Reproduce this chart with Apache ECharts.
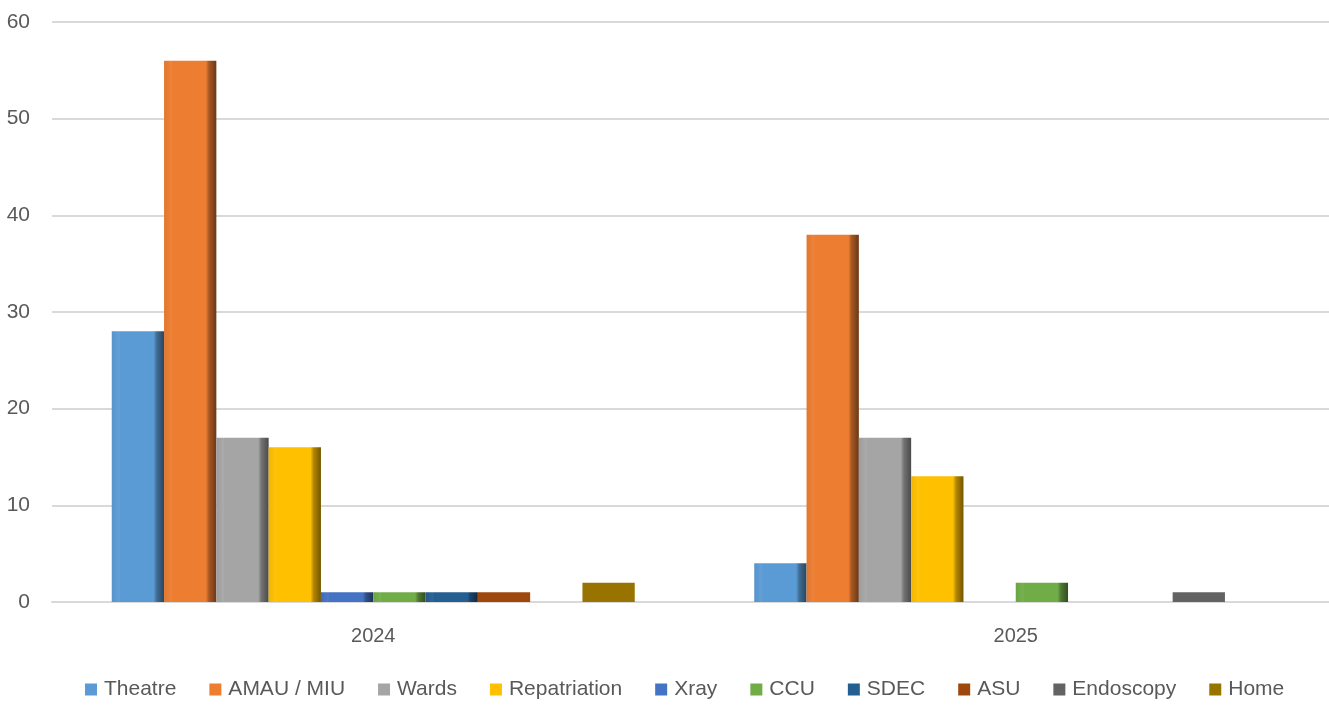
<!DOCTYPE html>
<html>
<head>
<meta charset="utf-8">
<script src="https://cdn.jsdelivr.net/npm/echarts@6/dist/echarts.min.js"></script>
<style>html,body{margin:0;padding:0;background:#fff}#c{width:1329px;height:705px}</style>
</head>
<body>
<div id="c"></div>
<script>
const categories = ['2024', '2025'];
const seriesNames = ['Theatre', 'AMAU / MIU', 'Wards', 'Repatriation', 'Xray', 'CCU', 'SDEC', 'ASU', 'Endoscopy', 'Home'];
const theatre = [28, 4];
const amau = [56, 38];
const wards = [17, 17];
const repatriation = [16, 13];
const xray = [1, 0];
const ccu = [1, 2];
const sdec = [1, 0];
const asu = [1, 0];
const endoscopy = [0, 1];
const home = [2, 0];
const yTicks = [0, 10, 20, 30, 40, 50, 60];

const values = [theatre, amau, wards, repatriation, xray, ccu, sdec, asu, endoscopy, home];
const colors = ['#5B9BD5', '#ED7D31', '#A5A5A5', '#FFC000', '#4472C4', '#70AD47', '#255E91', '#9E480E', '#636363', '#997300'];
const beveled = [true, true, true, true, true, true, true, false, false, false];

function shade(hex, f) {
  const n = parseInt(hex.slice(1), 16);
  let r = (n >> 16) & 255, g = (n >> 8) & 255, b = n & 255;
  if (f < 0) { r = Math.round(r * (1 + f)); g = Math.round(g * (1 + f)); b = Math.round(b * (1 + f)); }
  else { r = Math.round(r + (255 - r) * f); g = Math.round(g + (255 - g) * f); b = Math.round(b + (255 - b) * f); }
  return 'rgb(' + r + ',' + g + ',' + b + ')';
}
function fill(c, bev) {
  if (!bev) return c;
  return {
    type: 'linear', x: 0, y: 0, x2: 1, y2: 0,
    colorStops: [
      { offset: 0, color: shade(c, -0.05) },
      { offset: 0.14, color: shade(c, 0.05) },
      { offset: 0.16, color: c },
      { offset: 0.80, color: c },
      { offset: 0.86, color: shade(c, -0.3) },
      { offset: 1, color: shade(c, -0.55) }
    ]
  };
}

const series = seriesNames.map((name, i) => ({
  name: name,
  type: 'bar',
  data: values[i],
  barGap: '0%',
  barCategoryGap: '18.6%',
  itemStyle: { color: fill(colors[i], beveled[i]) }
}));

const chart = echarts.init(document.getElementById('c'), null, { renderer: 'canvas' });
chart.setOption({
  animation: false,
  color: colors,
  textStyle: { fontFamily: 'Liberation Sans, Arial, sans-serif' },
  grid: { left: 52, right: -8, top: 22, bottom: 103, containLabel: false, outerBoundsMode: 'none' },
  legend: {
    bottom: 0,
    left: 80,
    itemWidth: 12,
    itemHeight: 12,
    itemGap: 33,
    icon: 'rect',
    textStyle: { fontSize: 21, color: '#595959', padding: [0, 0, 0, 2] },
    data: seriesNames.map((n, i) => ({ name: n, itemStyle: { color: colors[i] } }))
  },
  xAxis: {
    type: 'category',
    data: categories,
    axisLine: { lineStyle: { color: '#D9D9D9', width: 2 } },
    axisTick: { show: false },
    axisLabel: { fontSize: 20, color: '#595959', margin: 24 }
  },
  yAxis: {
    type: 'value',
    min: yTicks[0],
    max: yTicks[yTicks.length - 1],
    interval: 10,
    axisLine: { show: false },
    axisTick: { show: false },
    splitLine: { lineStyle: { color: '#D9D9D9', width: 2 } },
    axisLabel: { fontSize: 21, color: '#595959', margin: 22 }
  },
  series: series
});
</script>
</body>
</html>
